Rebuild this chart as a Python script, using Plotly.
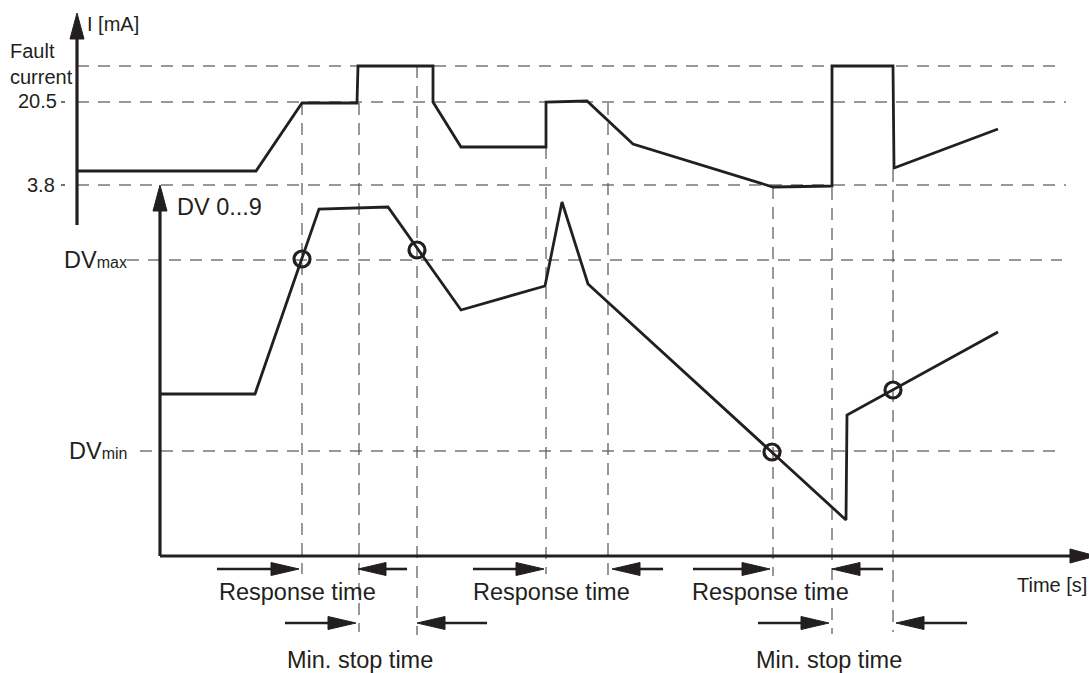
import plotly.graph_objects as go

# ---------------------------------------------------------------------------
# schematic values (1 unit = 1 px of the original sheet,
# y grows downwards like in the picture)
# ---------------------------------------------------------------------------

# ----------------------- current signal (top part) -------------------------
cur_t = [78, 256, 302, 357, 358, 433, 433, 461, 546, 546, 587, 633, 773, 832, 832, 893, 894, 998]
cur_i = [171, 171, 103, 103, 66, 66, 102, 147, 147, 102, 101, 144, 187, 186, 66, 66, 168, 129]

# ----------------------- DV signal (bottom part) ---------------------------
dv_t = [160, 255, 319, 388, 461, 545, 562, 588, 846, 847, 998]
dv_v = [394, 394, 209, 207, 310, 286, 202, 284, 520, 415, 332]

# ----------------------- switching points ----------------------------------
sw_t = [302, 417, 772, 893]
sw_v = [259, 250, 452, 390]

# ----------------------- reference levels ----------------------------------
lvl_names = ['fault', '20.5', '3.8', 'DVmax', 'DVmin']
lvl_y = [66, 102, 185, 260, 451]
lvl_x0 = [77, 77, 77, 127, 140]
lvl_x1 = [1064, 1066, 1066, 1062, 1062]

# ----------------------- event markers (vertical dashed) -------------------
ev_t = [302, 359, 417, 546, 608, 773, 832, 893]
ev_top = [103, 103, 66, 147, 103, 187, 188, 170]
ev_bot = [574, 632, 635, 574, 576, 576, 634, 632]

# ----------------------- time interval arrows ------------------------------
resp_tail = [217, 407, 473, 663, 693, 883]
resp_tip = [299, 358, 544, 612, 770, 832]
stop_tail = [285, 487, 758, 967]
stop_tip = [356, 417, 829, 896]

INK = '#231f20'
DASH = '#333333'
FONT = 'Liberation Sans, Arial, sans-serif'
resp_y = 569
stop_y = 623


def head(tx, ty, dx, dy, length, half):
    bx, by = tx - dx * length, ty - dy * length
    px, py = -dy, dx
    return ([tx, bx + px * half, bx - px * half, tx, None],
            [ty, by + py * half, by - py * half, ty, None])


fig = go.Figure()

# ----------------------- dashed reference lines ----------------------------
hx, hy = [], []
for y, a, b in zip(lvl_y, lvl_x0, lvl_x1):
    hx += [a, b, None]
    hy += [y, y, None]
fig.add_trace(go.Scatter(x=hx, y=hy, mode='lines',
                         line=dict(color=DASH, width=1.2, dash='12px,9px')))

vx, vy = [], []
for t, a, b in zip(ev_t, ev_top, ev_bot):
    vx += [t, t, None]
    vy += [a, b, None]
fig.add_trace(go.Scatter(x=vx, y=vy, mode='lines',
                         line=dict(color='#555555', width=1.2, dash='12px,8px')))

# small tick dots in front of 20.5 and 3.8
fig.add_trace(go.Scatter(x=[61, 65, None, 61, 65], y=[102, 102, None, 185, 185], mode='lines',
                         line=dict(color=DASH, width=1.4)))

# ----------------------- signals -------------------------------------------
fig.add_trace(go.Scatter(x=cur_t, y=cur_i, mode='lines', line=dict(color=INK, width=2.8)))
fig.add_trace(go.Scatter(x=dv_t, y=dv_v, mode='lines', line=dict(color=INK, width=2.8)))
fig.add_trace(go.Scatter(x=sw_t, y=sw_v, mode='markers',
                         marker=dict(symbol='circle-open', size=16, color=INK, line=dict(width=3.2, color=INK))))

# ----------------------- axes with arrows ----------------------------------
ax_x, ax_y = [], []
hd_x, hd_y = [], []
# I axis, DV axis, time axis: (tail, tip)
axes = [((77, 225), (77, 13)), ((160, 556), (160, 185)), ((160, 556), (1096, 556))]
for (x0, y0), (x1, y1) in axes:
    L = ((x1 - x0) ** 2 + (y1 - y0) ** 2) ** 0.5
    dx, dy = (x1 - x0) / L, (y1 - y0) / L
    ax_x += [x0, x1 - dx * 20, None]
    ax_y += [y0, y1 - dy * 20, None]
    a, b = head(x1, y1, dx, dy, 26, 7)
    hd_x += a
    hd_y += b

ar_x, ar_y = [], []
for tails, tips, y in [(resp_tail, resp_tip, resp_y), (stop_tail, stop_tip, stop_y)]:
    for t0, t1 in zip(tails, tips):
        d = 1 if t1 > t0 else -1
        ar_x += [t0, t1 - d * 20, None]
        ar_y += [y, y, None]
        a, b = head(t1, y, d, 0, 28, 6.5)
        hd_x += a
        hd_y += b

fig.add_trace(go.Scatter(x=ax_x, y=ax_y, mode='lines', line=dict(color=INK, width=3.2)))
fig.add_trace(go.Scatter(x=ar_x, y=ar_y, mode='lines', line=dict(color=INK, width=2.6)))
fig.add_trace(go.Scatter(x=hd_x, y=hd_y, mode='lines', fill='toself', fillcolor=INK,
                         line=dict(color=INK, width=1)))

# ----------------------- labels --------------------------------------------
def label(x, y, text, size, anchor='left'):
    fig.add_annotation(x=x, y=y, text=text, showarrow=False, xanchor=anchor, yanchor='middle',
                       align=anchor if anchor != 'center' else 'center', borderpad=0,
                       font=dict(family=FONT, size=size, color=INK))


label(86, 24, 'I [mA]', 20)
label(9, 64, 'Fault<br>current', 20)
label(58, 101, '20.5', 20, 'right')
label(56, 185, '3.8', 20, 'right')
label(176, 207, 'DV 0...9', 23.5)
label(128, 260, "DV<span style='font-size:16px'>max</span>", 23.5, 'right')
label(128, 451, "DV<span style='font-size:16px'>min</span>", 23.5, 'right')
for cx in [297, 551, 770]:
    label(cx, 592, 'Response time', 23.5, 'center')
for cx in [360, 829]:
    label(cx, 660, 'Min. stop time', 23.5, 'center')
label(1088, 585, 'Time [s]', 20, 'right')

fig.update_layout(width=1089, height=673, margin=dict(l=0, r=0, t=0, b=0),
                  paper_bgcolor='white', plot_bgcolor='white', showlegend=False, hovermode=False)
fig.update_xaxes(range=[0, 1089], visible=False, fixedrange=True)
fig.update_yaxes(range=[673, 0], visible=False, fixedrange=True)

# drop the default 8px page margin so the drawing sits at the window corner
fig.write_html("out.html", config={'displayModeBar': False},
               post_script="document.body.style.margin='0';document.body.style.overflow='hidden';")
